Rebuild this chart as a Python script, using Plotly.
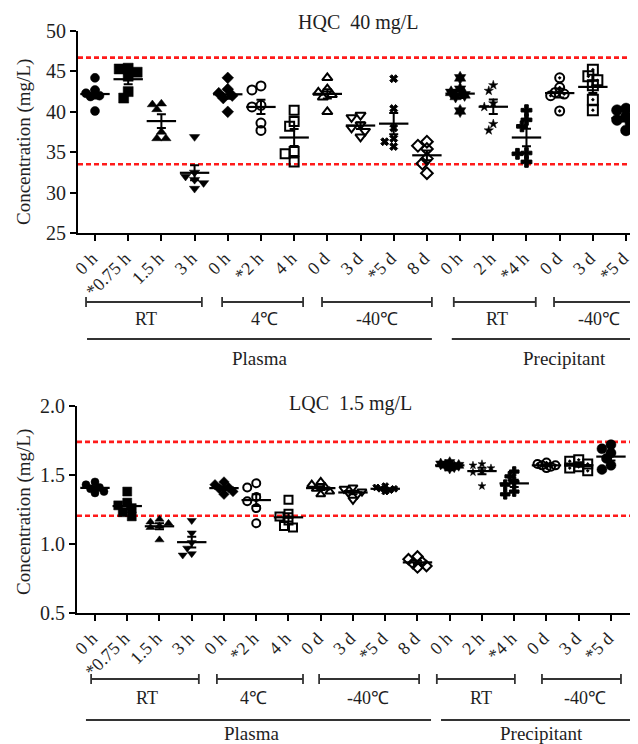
import numpy as np
import plotly.graph_objects as go

# ---------------- data ----------------
tick_labels = ["0 h", "*0.75 h", "1.5 h", "3 h", "0 h", "*2 h", "4 h", "0 d", "3 d", "*5 d", "8 d",
               "0 h", "2 h", "*4 h", "0 d", "3 d", "*5 d"]

# HQC 40 mg/L  (mg/L), six replicates per condition
hqc_plasma_rt = [[44.2, 42.7, 42.3, 42.0, 41.9, 40.1],
                 [45.4, 45.3, 44.9, 44.4, 42.5, 41.7],
                 [41.0, 40.9, 40.3, 37.5, 36.7, 36.7],
                 [36.9, 32.5, 32.0, 31.6, 31.2, 30.5]]
hqc_plasma_4c = [[44.2, 42.8, 42.3, 42.0, 41.7, 40.0],
                 [43.2, 42.7, 40.8, 40.6, 38.6, 37.7],
                 [40.2, 38.8, 38.2, 35.1, 34.8, 33.8]]
hqc_plasma_m40 = [[44.2, 42.8, 42.4, 42.1, 41.8, 40.0],
                  [39.6, 39.3, 38.4, 38.0, 37.6, 36.9],
                  [44.1, 40.4, 38.0, 36.7, 36.3, 35.7],
                  [36.3, 35.8, 35.4, 34.2, 33.6, 32.4]]
hqc_prec_rt = [[44.2, 42.8, 42.4, 42.1, 41.9, 40.1],
               [43.3, 42.6, 41.05, 40.6, 38.5, 37.7],
               [40.2, 39.0, 38.2, 34.9, 34.8, 33.8]]
hqc_prec_m40 = [[44.2, 43.0, 42.4, 42.2, 42.0, 40.1],
                [45.2, 44.4, 43.9, 43.3, 41.5, 40.2],
                [40.4, 40.2, 39.4, 39.0, 38.6, 37.7]]

# LQC 1.5 mg/L
lqc_plasma_rt = [[1.45, 1.43, 1.41, 1.40, 1.38, 1.37],
                 [1.38, 1.30, 1.28, 1.26, 1.23, 1.20],
                 [1.18, 1.16, 1.15, 1.13, 1.12, 1.03],
                 [1.17, 1.08, 1.01, 0.97, 0.93, 0.92]]
lqc_plasma_4c = [[1.45, 1.43, 1.41, 1.40, 1.38, 1.36],
                 [1.44, 1.41, 1.34, 1.31, 1.26, 1.15],
                 [1.32, 1.22, 1.20, 1.17, 1.13, 1.12]]
lqc_plasma_m40 = [[1.45, 1.43, 1.41, 1.40, 1.38, 1.36],
                  [1.41, 1.40, 1.38, 1.37, 1.36, 1.32],
                  [1.42, 1.41, 1.40, 1.40, 1.39, 1.38],
                  [0.91, 0.89, 0.87, 0.86, 0.84, 0.83]]
lqc_prec_rt = [[1.59, 1.58, 1.57, 1.57, 1.56, 1.55],
               [1.58, 1.57, 1.55, 1.53, 1.52, 1.42],
               [1.525, 1.49, 1.45, 1.43, 1.38, 1.36]]
lqc_prec_m40 = [[1.59, 1.58, 1.57, 1.57, 1.56, 1.55],
                [1.61, 1.60, 1.58, 1.56, 1.55, 1.53],
                [1.72, 1.69, 1.66, 1.62, 1.57, 1.54]]

hqc_limits = [46.7, 33.5]
lqc_limits = [1.74, 1.205]

condition_labels = ["RT", "4℃", "-40℃", "RT", "-40℃"]
matrix_labels = ["Plasma", "Precipitant"]

# ---------------- styles / layout ----------------
OFF = 8                      # page body margin of the html page
W, H = 638 - OFF, 744 - OFF  # figure size so that it fits the 638x744 window
FONT = "Liberation Serif"
TXT = "#1e1e1e"
symbols = ["circle", "square", "triangle-up", "triangle-down", "diamond",
           "circle-open", "square-open", "triangle-up-open", "triangle-down-open",
           "x", "diamond-open", "hexagram", "star", "cross",
           "circle-open-dot", "square-open-dot", "circle"]
sizes = [9, 10, 9, 9, 9, 9, 9, 9, 9, 7, 9, 10, 7, 9, 9, 10, 11]

# panel geometry in window pixels (layout only)
panels = [
    dict(xpx=(78, 638), ypx=(31, 233), xr=(-0.512, 16.36), yr=(25, 50), dtick=5, fmt="d",
         title="HQC\u00a0\u00a040 mg/L", title_px=(358, 22), ytitle_py=142,
         br_y=302, lab_y=319, grp_y=339, grp_lab_y=358,
         brackets=[(-0.27, 3.22), (3.83, 6.27), (6.84, 10.15), (10.81, 13.28), (13.83, 16.36)],
         groups=[(-0.24, 10.15), (10.75, 16.36)], grp_text=[4.96, 14.16],
         lab_x=[1.55, 5.1, 8.5, 12.1, 15.2]),
    dict(xpx=(77, 630), ypx=(406, 613), xr=(-0.558, 16.59), yr=(0.5, 2.0), dtick=0.5, fmt=".1f",
         title="LQC\u00a0\u00a01.5 mg/L", title_px=(350, 404), ytitle_py=512,
         br_y=679, lab_y=698, grp_y=720, grp_lab_y=733,
         brackets=[(-0.12, 3.22), (3.78, 6.45), (6.95, 10.05), (10.6, 13.02), (13.86, 16.31)],
         groups=[(-0.28, 10.42), (10.73, 16.59)], grp_text=[4.85, 13.86],
         lab_x=[1.6, 4.9, 8.47, 11.97, 15.19]),
]

datasets = [hqc_plasma_rt + hqc_plasma_4c + hqc_plasma_m40 + hqc_prec_rt + hqc_prec_m40,
            lqc_plasma_rt + lqc_plasma_4c + lqc_plasma_m40 + lqc_prec_rt + lqc_prec_m40]
limits = [hqc_limits, lqc_limits]


def swarm(vals, ypu, xpu, d=6.5, step=4.5):
    """deterministic, compact beeswarm offsets (category units)"""
    vals = np.asarray(vals, float)
    order = np.argsort(-vals)
    placed = []
    offs = np.zeros(len(vals))
    cands = [0, -1, 1, -2, 2]
    for i in order:
        y = vals[i] * ypu
        best, best_d = 0, -1.0
        for k in cands:
            x = k * step
            md = min([np.hypot(x - px, y - py) for px, py in placed] or [1e9])
            if md >= d:
                best = x
                break
            if md > best_d:
                best, best_d = x, md
        placed.append((best, y))
        offs[i] = best / xpu
    return offs


fig = go.Figure()

for pi, (p, groups, lims) in enumerate(zip(panels, datasets, limits)):
    xa = "x" if pi == 0 else "x2"
    ya = "y" if pi == 0 else "y2"
    xpu = (p["xpx"][1] - p["xpx"][0]) / (p["xr"][1] - p["xr"][0])
    ypu = (p["ypx"][1] - p["ypx"][0]) / (p["yr"][1] - p["yr"][0])
    for gi, vals in enumerate(groups):
        offs = swarm(vals, ypu, xpu)
        sym = symbols[gi]
        lw = 2 if "open" in sym else (1 if sym in ("x", "cross") else 0.5)
        fig.add_trace(go.Scatter(
            x=[gi + o for o in offs], y=vals, mode="markers", xaxis=xa, yaxis=ya,
            marker=dict(symbol=sym, size=sizes[gi] if pi == 0 else sizes[gi] - 1,
                        color="black", line=dict(color="black", width=lw)),
            showlegend=False, cliponaxis=False, hoverinfo="y"))
        arr = np.asarray(vals, float)
        mean = arr.mean()
        sem = arr.std(ddof=1) / np.sqrt(len(arr))
        fig.add_trace(go.Scatter(
            x=[gi], y=[mean], mode="markers", xaxis=xa, yaxis=ya,
            marker=dict(symbol="line-ew", size=21, color="black",
                        line=dict(color="black", width=2.2)),
            error_y=dict(type="data", array=[sem], visible=True, width=4.5,
                         thickness=2, color="black"),
            showlegend=False, cliponaxis=False, hoverinfo="y"))
    for lv in lims:
        fig.add_shape(type="line", xref=f"{xa} domain", yref=ya, x0=0, x1=1, y0=lv, y1=lv,
                      line=dict(color="#ff1a1a", width=2.6, dash="5px,3px"), layer="below")

common_x = dict(tickmode="array", tickvals=list(range(len(tick_labels))), ticktext=tick_labels,
                tickangle=-45, ticks="outside", ticklen=6, tickwidth=1.5, tickcolor="black",
                showline=True, linecolor="black", linewidth=1.8, showgrid=False, zeroline=False,
                ticklabeloverflow="allow", automargin=False, ticklabelshift=-3,
                tickfont=dict(family=FONT, size=18, color=TXT))
common_y = dict(ticks="outside", ticklen=6, tickwidth=1.5, tickcolor="black",
                showline=True, linecolor="black", linewidth=1.8, showgrid=False, zeroline=False,
                automargin=False,
                tickfont=dict(family=FONT, size=20, color=TXT))


def px2x(px):
    return (px - OFF) / W


def px2y(py):
    return 1 - (py - OFF) / H


layout_axes = {}
for pi, p in enumerate(panels):
    sx = "" if pi == 0 else "2"
    layout_axes[f"xaxis{sx}"] = dict(common_x, domain=[px2x(p["xpx"][0]), min(px2x(p["xpx"][1]), 1)],
                                     range=list(p["xr"]), anchor=f"y{sx}")
    layout_axes[f"yaxis{sx}"] = dict(common_y, domain=[px2y(p["ypx"][1]), px2y(p["ypx"][0])],
                                     range=list(p["yr"]), dtick=p["dtick"], tick0=p["yr"][0],
                                     tickformat=p["fmt"], anchor=f"x{sx}")

fig.update_layout(template="none", width=W, height=H, margin=dict(l=0, r=0, t=0, b=0, pad=0),
                  plot_bgcolor="white", paper_bgcolor="white",
                  font=dict(family=FONT, color=TXT), **layout_axes)


def xcat(p, v):
    x0, x1 = p["xpx"]
    r0, r1 = p["xr"]
    return px2x(x0 + (v - r0) / (r1 - r0) * (x1 - x0))


def label(text, x, y, size=18, angle=0):
    fig.add_annotation(text=text, x=x, y=y, xref="paper", yref="paper", showarrow=False,
                       xanchor="center", yanchor="middle", textangle=angle,
                       font=dict(family=FONT, size=size, color=TXT))


for p in panels:
    label(p["title"], px2x(p["title_px"][0]), px2y(p["title_px"][1]), size=20)
    label("Concentration (mg/L)", px2x(24), px2y(p["ytitle_py"]), size=19, angle=-90)
    ln = dict(color="#333", width=1.8)
    for (a, b), lx, lab in zip(p["brackets"], p["lab_x"], condition_labels):
        xa_, xb_ = xcat(p, a), xcat(p, b)
        yb = px2y(p["br_y"])
        fig.add_shape(type="line", xref="paper", yref="paper", x0=xa_, x1=min(xb_, 1), y0=yb, y1=yb, line=ln)
        for xx in (xa_, xb_):
            if xx <= 0.999:
                fig.add_shape(type="line", xref="paper", yref="paper", x0=xx, x1=xx,
                              y0=px2y(p["br_y"] - 5), y1=px2y(p["br_y"] + 5), line=ln)
        label(lab, xcat(p, lx), px2y(p["lab_y"]), size=18)
    for (a, b), tx, lab in zip(p["groups"], p["grp_text"], matrix_labels):
        yg = px2y(p["grp_y"])
        fig.add_shape(type="line", xref="paper", yref="paper", x0=xcat(p, a), x1=min(xcat(p, b), 1),
                      y0=yg, y1=yg, line=ln)
        label(lab, xcat(p, tx), px2y(p["grp_lab_y"]), size=19)

fig.write_html("out.html")
